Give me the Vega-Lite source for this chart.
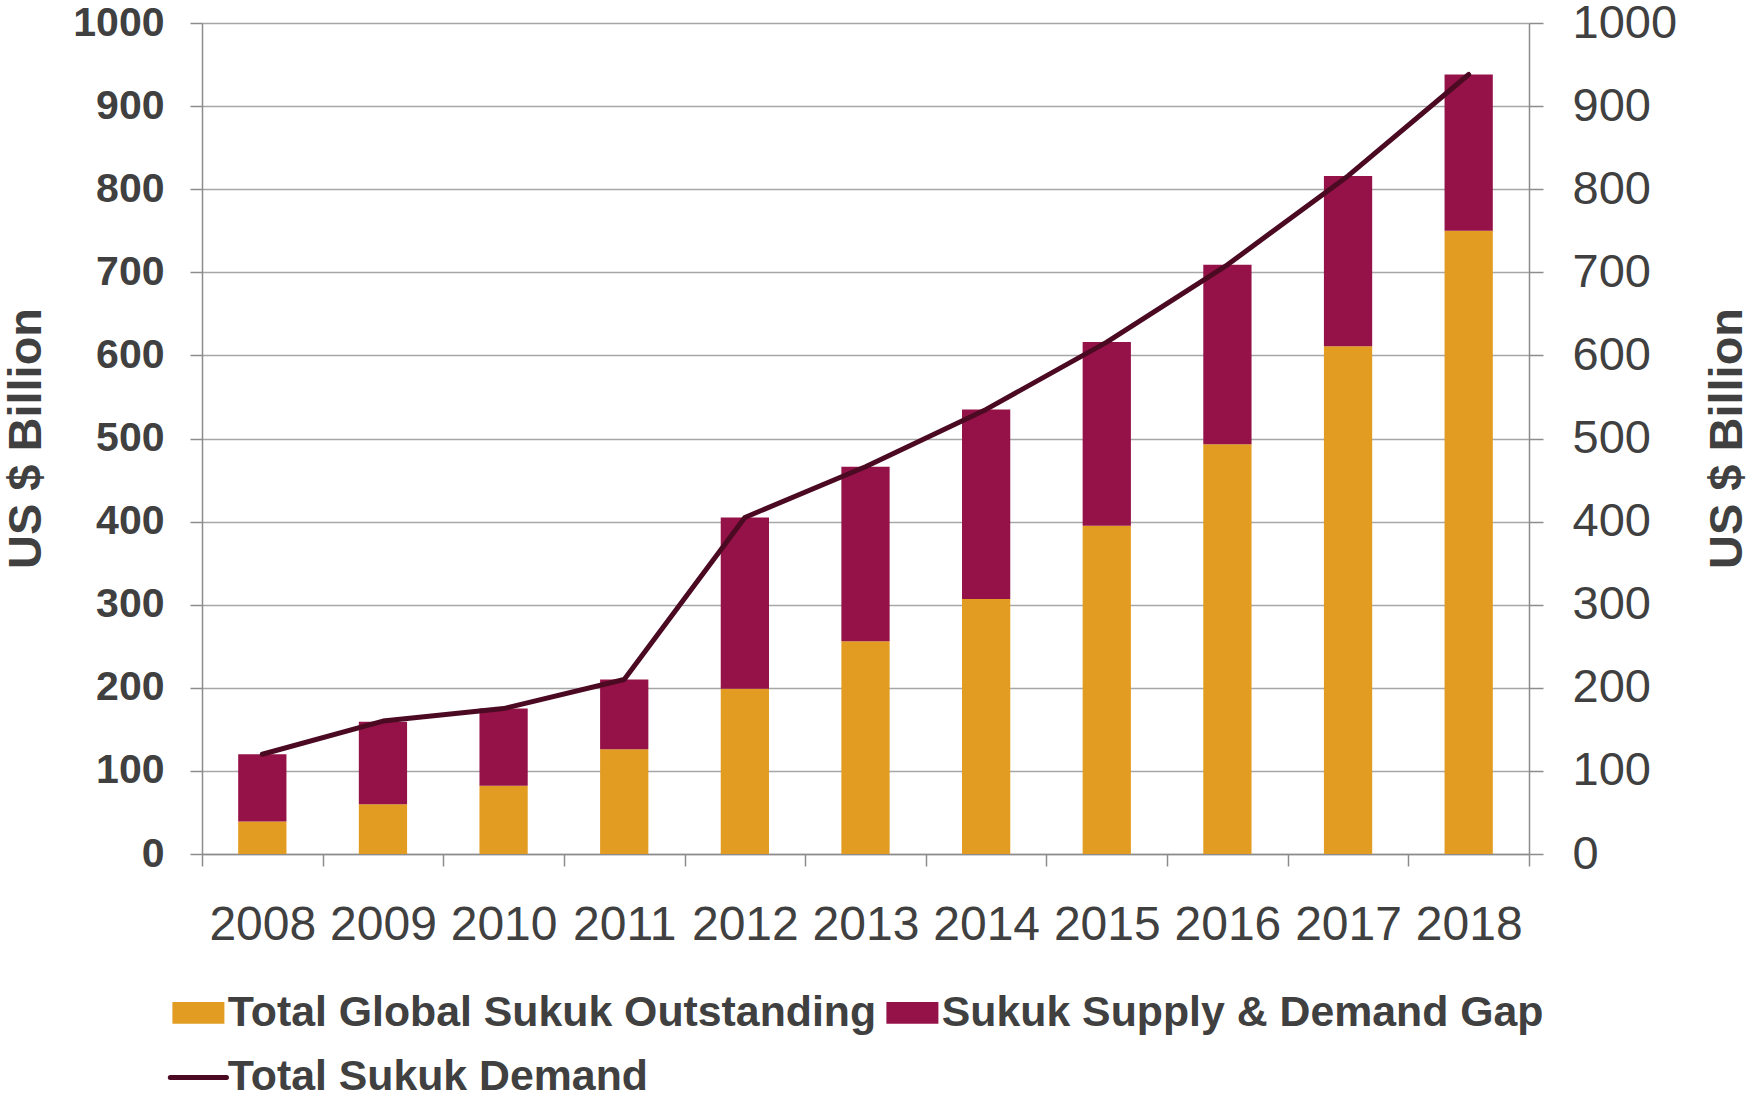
{
  "$schema": "https://vega.github.io/schema/vega-lite/v6.json",
  "width": 1327,
  "height": 831,
  "autosize": {"type": "none"},
  "padding": {"left": 202, "top": 23, "right": 219, "bottom": 240},
  "background": "white",
  "config": {
    "font": "Liberation Sans",
    "view": {"stroke": null},
    "axis": {
      "domainColor": "#8C8C8C",
      "domainWidth": 1.5,
      "tickColor": "#8C8C8C",
      "tickWidth": 1.5,
      "labelColor": "#404040",
      "titleColor": "#404040",
      "labelFont": "Liberation Sans",
      "titleFont": "Liberation Sans"
    }
  },
  "data": {
    "values": [
      {"year": "2008", "series": "Total Global Sukuk Outstanding", "value": 39},
      {"year": "2009", "series": "Total Global Sukuk Outstanding", "value": 60},
      {"year": "2010", "series": "Total Global Sukuk Outstanding", "value": 82},
      {"year": "2011", "series": "Total Global Sukuk Outstanding", "value": 126},
      {"year": "2012", "series": "Total Global Sukuk Outstanding", "value": 199},
      {"year": "2013", "series": "Total Global Sukuk Outstanding", "value": 256},
      {"year": "2014", "series": "Total Global Sukuk Outstanding", "value": 307},
      {"year": "2015", "series": "Total Global Sukuk Outstanding", "value": 395},
      {"year": "2016", "series": "Total Global Sukuk Outstanding", "value": 493},
      {"year": "2017", "series": "Total Global Sukuk Outstanding", "value": 611},
      {"year": "2018", "series": "Total Global Sukuk Outstanding", "value": 750},
      {"year": "2008", "series": "Sukuk Supply & Demand Gap", "value": 81},
      {"year": "2009", "series": "Sukuk Supply & Demand Gap", "value": 99},
      {"year": "2010", "series": "Sukuk Supply & Demand Gap", "value": 93},
      {"year": "2011", "series": "Sukuk Supply & Demand Gap", "value": 84},
      {"year": "2012", "series": "Sukuk Supply & Demand Gap", "value": 206},
      {"year": "2013", "series": "Sukuk Supply & Demand Gap", "value": 210},
      {"year": "2014", "series": "Sukuk Supply & Demand Gap", "value": 228},
      {"year": "2015", "series": "Sukuk Supply & Demand Gap", "value": 221},
      {"year": "2016", "series": "Sukuk Supply & Demand Gap", "value": 216},
      {"year": "2017", "series": "Sukuk Supply & Demand Gap", "value": 205},
      {"year": "2018", "series": "Sukuk Supply & Demand Gap", "value": 188},
      {"year": "2008", "series": "Total Sukuk Demand", "value": 120},
      {"year": "2009", "series": "Total Sukuk Demand", "value": 160},
      {"year": "2010", "series": "Total Sukuk Demand", "value": 175},
      {"year": "2011", "series": "Total Sukuk Demand", "value": 210},
      {"year": "2012", "series": "Total Sukuk Demand", "value": 405},
      {"year": "2013", "series": "Total Sukuk Demand", "value": 466},
      {"year": "2014", "series": "Total Sukuk Demand", "value": 535},
      {"year": "2015", "series": "Total Sukuk Demand", "value": 616},
      {"year": "2016", "series": "Total Sukuk Demand", "value": 709},
      {"year": "2017", "series": "Total Sukuk Demand", "value": 816},
      {"year": "2018", "series": "Total Sukuk Demand", "value": 938}
    ]
  },
  "encoding": {
    "x": {
      "field": "year",
      "type": "ordinal",
      "scale": {"paddingInner": 0, "paddingOuter": 0},
      "axis": {
        "title": null,
        "labelAngle": 0,
        "labelFontSize": 48,
        "labelPadding": 35,
        "tickSize": 12,
        "tickBand": "extent",
        "grid": false
      }
    }
  },
  "layer": [
    {
      "transform": [{"filter": "datum.series !== 'Total Sukuk Demand'"}],
      "mark": {"type": "bar", "width": {"band": 0.4}},
      "encoding": {
        "y": {
          "field": "value",
          "type": "quantitative",
          "stack": "zero",
          "scale": {"domain": [0, 1000], "nice": false},
          "axis": {
            "orient": "left",
            "title": "US $ Billion",
            "titleFontSize": 47,
            "titleFontWeight": "bold",
            "titleAngle": 270,
            "titleBaseline": "alphabetic",
            "titleAlign": "center",
            "titleX": -162,
            "titleY": 415,
            "values": [0, 100, 200, 300, 400, 500, 600, 700, 800, 900, 1000],
            "format": "d",
            "labelFontSize": 41,
            "labelFontWeight": "bold",
            "labelPadding": 26,
            "tickSize": 12,
            "grid": true,
            "gridColor": "#A6A6A6",
            "gridWidth": 1.5
          }
        },
        "color": {
          "field": "series",
          "type": "nominal",
          "scale": {
            "domain": ["Total Global Sukuk Outstanding", "Sukuk Supply & Demand Gap", "Total Sukuk Demand"],
            "range": ["#E29C21", "#951249", "#4B0A22"]
          },
          "legend": {
            "title": null,
            "orient": "none",
            "legendX": -25,
            "legendY": 968,
            "direction": "horizontal",
            "columns": 2,
            "symbolSize": 2704,
            "labelFont": "Liberation Sans",
            "labelFontSize": 42.8,
            "labelFontWeight": "bold",
            "labelColor": "#404040",
            "labelLimit": 1000,
            "labelOffset": 8,
            "columnPadding": 9,
            "rowPadding": 21,
            "padding": 0,
            "encode": {
              "symbols": {
                "update": {
                  "shape": {"signal": "datum.value === 'Total Sukuk Demand' ? 'M-1.08,0H1.08' : 'M-1,-0.42H1V0.42H-1Z'"},
                  "fill": {"signal": "datum.value === 'Total Sukuk Demand' ? 'transparent' : scale('color', datum.value)"},
                  "stroke": {"scale": "color", "field": "value"},
                  "strokeWidth": {"signal": "datum.value === 'Total Sukuk Demand' ? 5 : 0"},
                  "strokeCap": {"value": "round"},
                  "opacity": {"value": 1}
                }
              }
            }
          }
        },
        "order": {"field": "series", "sort": "descending"}
      }
    },
    {
      "transform": [{"filter": "datum.series === 'Total Sukuk Demand'"}],
      "mark": {"type": "line", "strokeWidth": 5, "strokeCap": "round", "strokeJoin": "round"},
      "encoding": {
        "y": {
          "field": "value",
          "type": "quantitative",
          "scale": {"domain": [0, 1000], "nice": false},
          "axis": {
            "orient": "right",
            "title": "US $ Billion",
            "titleFontSize": 47,
            "titleFontWeight": "bold",
            "titleAngle": 270,
            "titleBaseline": "alphabetic",
            "titleAlign": "center",
            "titleX": 212,
            "titleY": 415,
            "values": [0, 100, 200, 300, 400, 500, 600, 700, 800, 900, 1000],
            "format": "d",
            "labelFontSize": 47,
            "labelPadding": 29,
            "tickSize": 14,
            "grid": false
          }
        },
        "color": {
          "field": "series",
          "type": "nominal",
          "scale": {
            "domain": ["Total Global Sukuk Outstanding", "Sukuk Supply & Demand Gap", "Total Sukuk Demand"],
            "range": ["#E29C21", "#951249", "#4B0A22"]
          }
        }
      }
    }
  ],
  "resolve": {"scale": {"y": "independent"}}
}
